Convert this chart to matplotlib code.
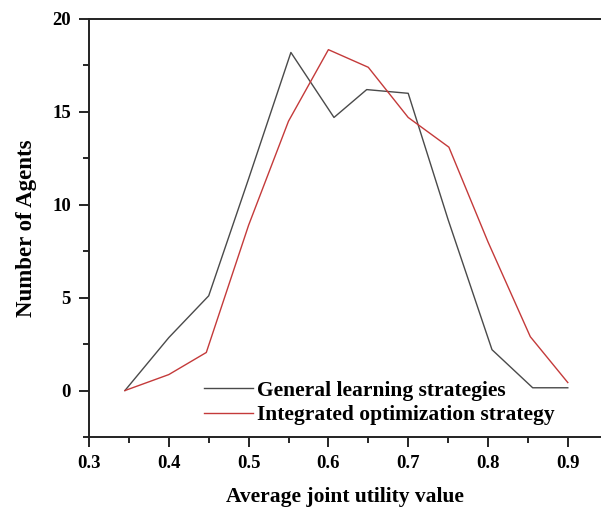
import matplotlib
matplotlib.use("Agg")
import matplotlib.pyplot as plt
from matplotlib.ticker import MultipleLocator

# data
x_general = [0.345, 0.40, 0.45, 0.50, 0.553, 0.607, 0.648, 0.70, 0.75, 0.805, 0.856, 0.90]
y_general = [0.0, 2.85, 5.1, 11.4, 18.2, 14.7, 16.2, 16.0, 9.2, 2.2, 0.15, 0.15]
x_integrated = [0.345, 0.40, 0.447, 0.50, 0.55, 0.60, 0.65, 0.70, 0.751, 0.80, 0.853, 0.90]
y_integrated = [0.0, 0.86, 2.05, 8.9, 14.5, 18.35, 17.4, 14.7, 13.1, 8.0, 2.9, 0.43]
labels = ["General learning strategies", "Integrated optimization strategy"]

plt.rcParams['font.family'] = ['Liberation Serif', 'DejaVu Serif']
plt.rcParams['font.weight'] = 'bold'

fig = plt.figure(figsize=(6.01, 5.07), dpi=100)
W, H = 601, 507
ax = fig.add_axes([89 / W, 1 - 437 / H, (W - 89) / W, (437 - 19) / H])

ax.plot(x_general, y_general, color='#4a4a4a', lw=1.0, label=labels[0])
ax.plot(x_integrated, y_integrated, color='#c43a3a', lw=1.0, label=labels[1])

ax.set_xlim(0.3, 0.3 + (W - 89) / 798)
ax.set_ylim(-2.5, 20)
ax.xaxis.set_minor_locator(MultipleLocator(0.05))
ax.yaxis.set_minor_locator(MultipleLocator(2.5))
ax.set_yticks([0, 5, 10, 15, 20])
ax.set_xticks([0.3, 0.4, 0.5, 0.6, 0.7, 0.8, 0.9])
ax.set_xticklabels(['0.3', '0.4', '0.5', '0.6', '0.7', '0.8', '0.9'])

ax.spines['right'].set_visible(False)
for s in ['left', 'bottom', 'top']:
    ax.spines[s].set_linewidth(1.4)
    ax.spines[s].set_color('#222222')
ax.tick_params(which='major', direction='out', length=7, width=1.2, labelsize=13.5, pad=6)
ax.tick_params(which='minor', direction='out', length=4, width=1.2)
for t in ax.get_xticklabels() + ax.get_yticklabels():
    t.set_fontweight('bold')

ax.set_xlabel('Average joint utility value', fontsize=15.5, fontweight='bold', labelpad=11)
ax.set_ylabel('Number of Agents', fontsize=16.5, fontweight='bold', labelpad=11)

leg = ax.legend(loc='lower left', bbox_to_anchor=(0.207, 0.008), frameon=False,
                fontsize=15.5, handlelength=2.3, handletextpad=0.2, labelspacing=0.2,
                borderaxespad=0)
for t in leg.get_texts():
    t.set_fontweight('bold')

fig.savefig('out.png', dpi=100)
